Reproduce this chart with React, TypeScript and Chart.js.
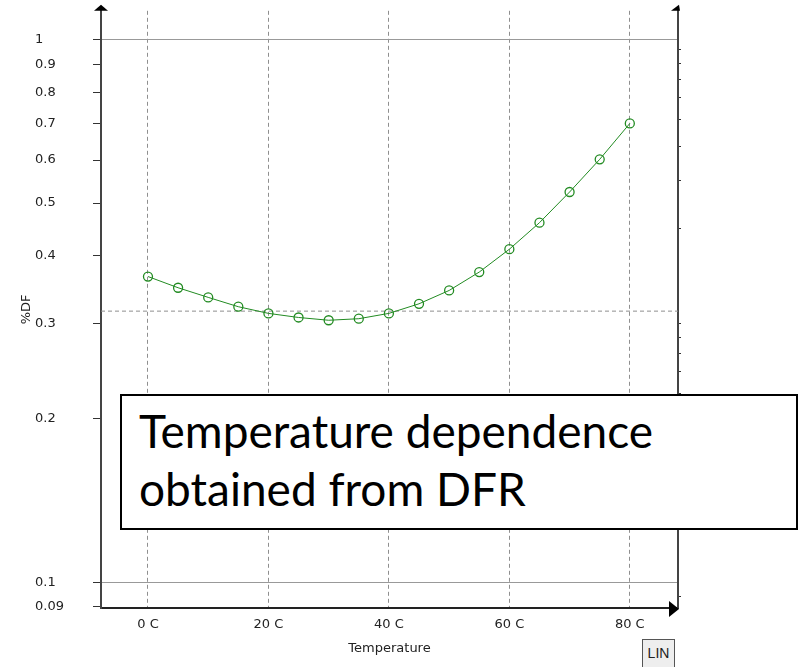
import React, { useEffect, useRef } from 'react';
import { Chart, registerables } from 'chart.js';

Chart.register(...registerables);

// ---- data ----
const temperatures = [0, 5, 10, 15, 20, 25, 30, 35, 40, 45, 50, 55, 60, 65, 70, 75, 80];
const dfValues = [0.366, 0.349, 0.335, 0.322, 0.313, 0.3076, 0.304, 0.306, 0.313, 0.326, 0.345, 0.373, 0.411, 0.46, 0.524, 0.602, 0.701];
const xTickValues = [0, 20, 40, 60, 80];
const yTickValues = [0.09, 0.1, 0.2, 0.3, 0.4, 0.5, 0.6, 0.7, 0.8, 0.9, 1];
const yGridValues = [0.1, 1];
const rightTickValues = [0.09, 0.2, 0.3, 0.4, 0.5, 0.6, 0.7, 0.8, 0.9, 2, 3, 4, 5, 6, 7, 8, 9];
const referenceLevel = 0.316;
const xRange = [-7.8, 88];
const yRange = [0.0896, 1.131];
const rightRange = [0.082, 12.5];

const AXIS_FONT = { family: "'DejaVu Sans', sans-serif", size: 13 };
const TEXT_COLOR = '#222';
const GREEN = '#228b22';
const GRID_GRAY = '#8f8f8f';

const axisArrows = {
  id: 'axisArrows',
  afterDraw(chart: any) {
    const { ctx, chartArea } = chart;
    const { left, right, top, bottom } = chartArea;
    const tri = (a: number[], b: number[], c: number[]) => {
      ctx.beginPath();
      ctx.moveTo(a[0], a[1]);
      ctx.lineTo(b[0], b[1]);
      ctx.lineTo(c[0], c[1]);
      ctx.closePath();
      ctx.fill();
    };
    ctx.save();
    ctx.fillStyle = '#000';
    tri([left, top - 6], [left - 7, top], [left + 7, top]);
    tri([right + 1, top - 6], [right - 7, top], [right + 2, top]);
    tri([right + 1, bottom + 1], [right - 9, bottom - 7], [right - 9, bottom + 9]);
    ctx.restore();
  },
};

export default function App() {
  const canvasRef = useRef<HTMLCanvasElement | null>(null);

  useEffect(() => {
    if (!canvasRef.current) return;
    const chart = new Chart(canvasRef.current, {
      type: 'line',
      data: {
        datasets: [
          {
            label: '%DF',
            data: temperatures.map((t, i) => ({ x: t, y: dfValues[i] })),
            borderColor: GREEN,
            borderWidth: 1,
            pointRadius: 4.5,
            pointBorderWidth: 1.3,
            pointBackgroundColor: 'rgba(0,0,0,0)',
            pointBorderColor: GREEN,
            tension: 0,
            xAxisID: 'x',
            yAxisID: 'y',
          },
          {
            label: 'reference',
            data: xRange.map((x) => ({ x, y: referenceLevel })),
            borderColor: GRID_GRAY,
            borderWidth: 1,
            borderDash: [4, 3],
            pointRadius: 0,
            xAxisID: 'x',
            yAxisID: 'y',
          },
        ],
      },
      options: {
        animation: false,
        responsive: false,
        layout: { padding: { left: 35, top: 10, right: 110, bottom: 0 } },
        plugins: { legend: { display: false }, tooltip: { enabled: false } },
        scales: {
          x: {
            type: 'linear',
            position: 'bottom',
            min: xRange[0],
            max: xRange[1],
            afterBuildTicks: (s: any) => {
              s.ticks = xTickValues.map((v) => ({ value: v }));
            },
            afterFit: (s: any) => {
              s.height = 59;
            },
            ticks: {
              callback: (v: any) => `${v} C`,
              font: AXIS_FONT,
              color: TEXT_COLOR,
              padding: 9,
              maxRotation: 0,
              autoSkip: false,
            },
            grid: { color: GRID_GRAY, lineWidth: 1, drawTicks: false },
            border: { color: '#222', width: 2, dash: [4, 3] },
            title: {
              display: true,
              text: 'Temperature',
              font: AXIS_FONT,
              color: TEXT_COLOR,
              padding: { top: 0, bottom: 11 },
            },
          },
          y: {
            type: 'logarithmic',
            position: 'left',
            min: yRange[0],
            max: yRange[1],
            afterBuildTicks: (s: any) => {
              s.ticks = yTickValues.map((v) => ({ value: v }));
            },
            afterFit: (s: any) => {
              s.width = 66;
            },
            ticks: {
              crossAlign: 'far',
              callback: (v: any) => String(v),
              font: AXIS_FONT,
              color: TEXT_COLOR,
              autoSkip: false,
            },
            grid: {
              color: (ctx: any) =>
                ctx.tick && yGridValues.includes(ctx.tick.value) ? '#999' : 'rgba(0,0,0,0)',
              tickColor: '#333',
              tickLength: 8,
              lineWidth: 1,
            },
            border: { color: '#444', width: 2 },
            title: {
              display: true,
              text: '%DF',
              font: AXIS_FONT,
              color: TEXT_COLOR,
              padding: { top: -16, bottom: 0 },
            },
          },
          y2: {
            type: 'logarithmic',
            position: 'right',
            min: rightRange[0],
            max: rightRange[1],
            afterBuildTicks: (s: any) => {
              s.ticks = rightTickValues.map((v) => ({ value: v }));
            },
            afterFit: (s: any) => {
              s.width = 10;
            },
            ticks: { callback: () => '', autoSkip: false },
            grid: { drawOnChartArea: false, tickLength: 3, tickColor: '#333', lineWidth: 1 },
            border: { color: '#444', width: 2 },
          },
        },
      } as any,
      plugins: [axisArrows],
    });
    return () => chart.destroy();
  }, []);

  return (
    <div
      style={{
        position: 'absolute',
        left: 0,
        top: 0,
        width: 798,
        height: 667,
        overflow: 'hidden',
        background: '#fff',
      }}
    >
      <canvas
        ref={canvasRef}
        width={798}
        height={667}
        style={{ position: 'absolute', left: 0, top: 0, width: 798, height: 667 }}
      />
      <div
        style={{
          position: 'absolute',
          left: 120,
          top: 394,
          width: 678,
          height: 136,
          boxSizing: 'border-box',
          border: '2px solid #000',
          background: '#fff',
          padding: '6px 0 0 17px',
          fontFamily: "Lato, 'Open Sans', sans-serif",
          fontSize: 46,
          lineHeight: '58px',
          color: '#000',
          whiteSpace: 'pre',
        }}
      >
        {'Temperature dependence\nobtained from DFR'}
      </div>
      <div
        style={{
          position: 'absolute',
          left: 642,
          top: 639,
          width: 33,
          height: 32,
          boxSizing: 'border-box',
          border: '1px solid #555',
          background: '#eee',
          paddingTop: 5,
          textAlign: 'center',
          fontFamily: "'Liberation Sans', Arial, sans-serif",
          fontSize: 14,
          lineHeight: '16px',
          color: '#222',
        }}
      >
        LIN
      </div>
    </div>
  );
}
